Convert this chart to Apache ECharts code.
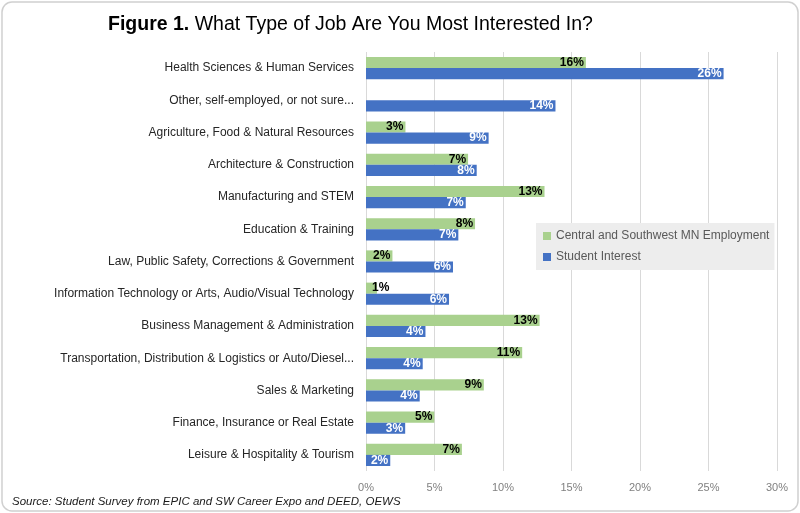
<!DOCTYPE html>
<html>
<head>
<meta charset="utf-8">
<script src="https://cdn.jsdelivr.net/npm/echarts@6/dist/echarts.min.js"></script>
<style>html,body{margin:0;padding:0;background:#fff;}#c{width:800px;height:513px;}</style>
</head>
<body>
<div id="c"></div>
<script>
const categories = [
  "Health Sciences & Human Services",
  "Other, self-employed, or not sure...",
  "Agriculture, Food & Natural Resources",
  "Architecture & Construction",
  "Manufacturing and STEM",
  "Education & Training",
  "Law, Public Safety, Corrections & Government",
  "Information Technology or Arts, Audio/Visual Technology",
  "Business Management & Administration",
  "Transportation, Distribution & Logistics or Auto/Diesel...",
  "Sales & Marketing",
  "Finance, Insurance or Real Estate",
  "Leisure & Hospitality & Tourism"
];
const employment = [16.05, null, 2.88, 7.45, 13.03, 7.96, 1.93, 0.8, 12.67, 11.4, 8.6, 4.99, 7.0];
const studentInterest = [26.1, 13.83, 8.95, 8.08, 7.28, 6.74, 6.35, 6.06, 4.34, 4.14, 3.92, 2.86, 1.77];
const xTicks = { min: 0, max: 30, interval: 5 };
const seriesNames = ["Central and Southwest MN Employment", "Student Interest"];

const FONT = "Liberation Sans, Arial, sans-serif";
const chart = echarts.init(document.getElementById('c'));
const pct = p => (p.value == null ? '' : Math.round(p.value) + '%');
const keepInside = p => (p.labelRect.x < 372 ? { dx: 372 - p.labelRect.x } : {});
chart.setOption({
  animation: false,
  backgroundColor: '#ffffff',
  textStyle: { fontFamily: FONT },
  graphic: [{
    type: 'rect', silent: true, z: -1,
    shape: { x: 2, y: 2, width: 796, height: 509, r: 10 },
    style: { fill: '#ffffff', stroke: '#d0d0d0', lineWidth: 1.5 }
  }, {
    type: 'text', left: 12, top: 496,
    style: { text: 'Source: Student Survey from EPIC and SW Career Expo and DEED, OEWS', font: 'italic 11.5px ' + FONT, fill: '#1a1a1a' }
  }],
  title: {
    left: 103, top: 10,
    text: '{b|Figure 1.} What Type of Job Are You Most Interested In?',
    textStyle: {
      fontSize: 19.5, fontWeight: 'normal', color: '#000000', fontFamily: FONT,
      rich: { b: { fontSize: 19.5, fontWeight: 'bold', color: '#000000', fontFamily: FONT } }
    }
  },
  legend: {
    orient: 'vertical', left: 536, top: 223,
    backgroundColor: '#ededed',
    padding: [7, 5, 7, 7],
    itemWidth: 8, itemHeight: 8, itemGap: 9,
    icon: 'rect',
    textStyle: { fontSize: 12, color: '#595959', fontFamily: FONT },
    data: seriesNames
  },
  grid: { left: 366, right: 23, top: 52, bottom: 42, containLabel: false },
  xAxis: {
    type: 'value', min: xTicks.min, max: xTicks.max, interval: xTicks.interval,
    axisLine: { show: false }, axisTick: { show: false },
    axisLabel: { formatter: '{value}%', color: '#808080', fontSize: 11, margin: 11 },
    splitLine: { lineStyle: { color: '#d9d9d9', width: 1 } }
  },
  yAxis: {
    type: 'category', inverse: true, data: categories,
    axisLine: { show: false }, axisTick: { show: false },
    axisLabel: { color: '#262626', fontSize: 12, margin: 12 }
  },
  series: [{
    name: seriesNames[0], type: 'bar', data: employment,
    barGap: '0%', barCategoryGap: '31%',
    itemStyle: { color: '#a9d18e' },
    label: { show: true, position: 'insideRight', distance: 2, formatter: pct, color: '#000000', fontWeight: 'bold', fontSize: 12 },
    labelLayout: keepInside
  }, {
    name: seriesNames[1], type: 'bar', data: studentInterest,
    barGap: '0%', barCategoryGap: '31%',
    itemStyle: { color: '#4472c4' },
    label: { show: true, position: 'insideRight', distance: 2, formatter: pct, color: '#ffffff', fontWeight: 'bold', fontSize: 12 }
  }]
});
</script>
</body>
</html>
